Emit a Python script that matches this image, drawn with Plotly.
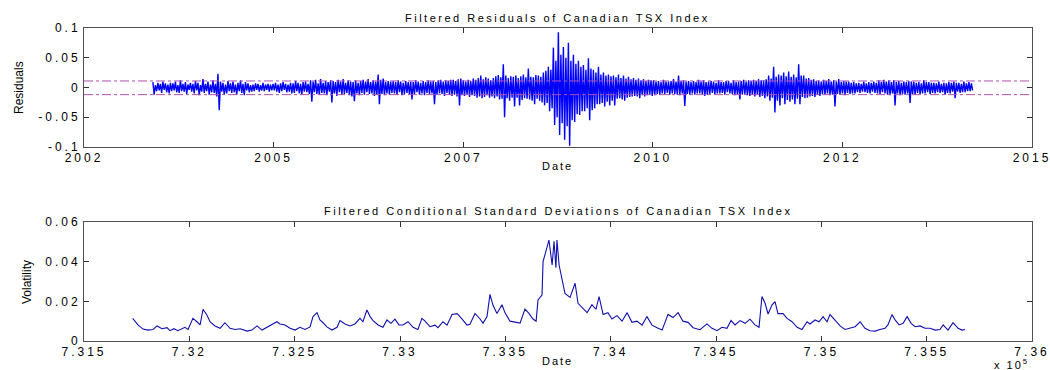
import numpy as np
import plotly.graph_objects as go

# ---------------- data ----------------
resid_start = 731827   # MATLAB datenum of first residual
resid_end = 735718     # MATLAB datenum of last residual
residuals = [
    0.009,-0.012,0.004,-0.006,0.008,-0.005,0.006,-0.009,0.010,-0.004,0.007,-0.008,0.005,-0.010,0.008,-0.006,
    0.007,-0.005,0.010,-0.008,0.004,-0.009,0.012,-0.006,0.006,-0.007,0.009,-0.011,0.005,-0.004,0.008,-0.007,
    0.006,-0.010,0.011,-0.005,0.008,-0.013,0.004,-0.007,0.014,-0.009,0.006,-0.006,0.010,-0.012,0.005,-0.008,
    0.012,-0.009,0.006,-0.015,0.023,-0.038,0.010,-0.007,0.008,-0.012,0.005,-0.010,0.011,-0.006,0.007,-0.009,
    0.010,-0.008,0.005,-0.012,0.008,-0.006,0.012,-0.009,0.006,-0.013,0.009,-0.005,0.007,-0.008,0.004,-0.007,
    0.005,-0.006,0.007,-0.004,0.006,-0.007,0.004,-0.005,0.008,-0.006,0.005,-0.004,0.006,-0.007,0.005,-0.005,
    0.006,-0.005,0.008,-0.007,0.005,-0.009,0.007,-0.006,0.009,-0.004,0.006,-0.008,0.005,-0.007,0.008,-0.010,
    0.007,-0.009,0.011,-0.006,0.008,-0.010,0.006,-0.012,0.009,-0.007,0.010,-0.008,0.006,-0.011,0.012,-0.024,
    0.010,-0.008,0.013,-0.011,0.007,-0.012,0.014,-0.009,0.008,-0.010,0.011,-0.013,0.009,-0.007,0.012,-0.025,
    0.011,-0.010,0.009,-0.014,0.013,-0.008,0.010,-0.012,0.014,-0.011,0.008,-0.009,0.012,-0.013,0.010,-0.015,
    0.009,-0.023,0.012,-0.010,0.008,-0.013,0.011,-0.009,0.013,-0.012,0.010,-0.008,0.014,-0.011,0.009,-0.010,
    0.012,-0.014,0.010,-0.012,0.022,-0.028,0.013,-0.011,0.015,-0.013,0.009,-0.010,0.011,-0.012,0.010,-0.009,
    0.011,-0.010,0.009,-0.012,0.012,-0.008,0.010,-0.013,0.008,-0.011,0.011,-0.009,0.009,-0.012,0.010,-0.020,
    0.009,-0.011,0.012,-0.008,0.010,-0.012,0.008,-0.010,0.011,-0.013,0.009,-0.009,0.012,-0.011,0.010,-0.010,
    0.011,-0.028,0.009,-0.012,0.012,-0.010,0.013,-0.011,0.010,-0.014,0.012,-0.009,0.011,-0.012,0.013,-0.014,
    0.013,-0.012,0.011,-0.015,0.014,-0.030,0.015,-0.013,0.012,-0.014,0.010,-0.012,0.013,-0.016,0.011,-0.013,
    0.015,-0.014,0.013,-0.017,0.016,-0.015,0.020,-0.018,0.014,-0.016,0.017,-0.013,0.015,-0.017,0.012,-0.015,
    0.016,-0.018,0.019,-0.015,0.021,-0.020,0.017,-0.019,0.039,-0.050,0.020,-0.018,0.016,-0.022,0.019,-0.017,
    0.018,-0.032,0.020,-0.017,0.016,-0.030,0.019,-0.021,0.022,-0.018,0.017,-0.019,0.032,-0.020,0.018,-0.022,
    0.017,-0.028,0.021,-0.019,0.020,-0.022,0.018,-0.025,0.025,-0.030,0.028,-0.026,0.035,-0.040,0.030,-0.035,
    0.067,-0.063,0.045,-0.050,0.093,-0.080,0.055,-0.060,0.068,-0.088,0.050,-0.065,0.075,-0.098,0.045,-0.055,
    0.055,-0.058,0.040,-0.045,0.045,-0.046,0.035,-0.040,0.038,-0.040,0.030,-0.035,0.049,-0.055,0.032,-0.038,
    0.030,-0.035,0.025,-0.028,0.035,-0.028,0.022,-0.026,0.025,-0.032,0.020,-0.024,0.022,-0.030,0.019,-0.022,
    0.020,-0.030,0.017,-0.019,0.022,-0.018,0.016,-0.020,0.020,-0.022,0.015,-0.017,0.018,-0.016,0.014,-0.015,
    0.016,-0.014,0.013,-0.015,0.015,-0.018,0.012,-0.013,0.014,-0.015,0.011,-0.013,0.013,-0.012,0.012,-0.014,
    0.012,-0.013,0.010,-0.011,0.011,-0.012,0.009,-0.010,0.013,-0.011,0.010,-0.009,0.010,-0.012,0.011,-0.010,
    0.014,-0.011,0.010,-0.012,0.020,-0.013,0.011,-0.010,0.012,-0.031,0.010,-0.011,0.011,-0.012,0.009,-0.010,
    0.011,-0.012,0.009,-0.010,0.013,-0.010,0.010,-0.011,0.012,-0.014,0.009,-0.012,0.010,-0.011,0.011,-0.009,
    0.010,-0.011,0.008,-0.010,0.012,-0.010,0.009,-0.009,0.009,-0.012,0.011,-0.008,0.011,-0.010,0.008,-0.011,
    0.012,-0.013,0.009,-0.011,0.010,-0.020,0.011,-0.012,0.013,-0.011,0.010,-0.013,0.012,-0.014,0.011,-0.012,
    0.013,-0.015,0.011,-0.012,0.014,-0.016,0.012,-0.014,0.012,-0.018,0.014,-0.015,0.020,-0.022,0.015,-0.017,
    0.035,-0.042,0.018,-0.022,0.022,-0.030,0.020,-0.018,0.025,-0.028,0.019,-0.021,0.027,-0.024,0.018,-0.020,
    0.022,-0.028,0.017,-0.019,0.039,-0.028,0.020,-0.016,0.020,-0.018,0.015,-0.017,0.016,-0.015,0.013,-0.014,
    0.014,-0.016,0.011,-0.012,0.012,-0.014,0.010,-0.011,0.013,-0.012,0.011,-0.010,0.014,-0.013,0.010,-0.012,
    0.012,-0.032,0.010,-0.011,0.014,-0.012,0.009,-0.010,0.011,-0.013,0.010,-0.009,0.010,-0.011,0.008,-0.010,
    0.009,-0.010,0.007,-0.008,0.008,-0.009,0.006,-0.007,0.010,-0.008,0.007,-0.009,0.009,-0.010,0.008,-0.007,
    0.010,-0.009,0.008,-0.010,0.012,-0.011,0.009,-0.008,0.013,-0.010,0.010,-0.012,0.012,-0.013,0.009,-0.010,
    0.012,-0.030,0.009,-0.010,0.011,-0.013,0.008,-0.011,0.010,-0.012,0.009,-0.010,0.011,-0.026,0.010,-0.011,
    0.010,-0.012,0.008,-0.009,0.009,-0.011,0.007,-0.010,0.012,-0.010,0.009,-0.008,0.009,-0.011,0.008,-0.009,
    0.008,-0.010,0.007,-0.008,0.010,-0.009,0.006,-0.008,0.008,-0.012,0.007,-0.009,0.009,-0.010,0.008,-0.007,
    0.010,-0.018,0.008,-0.007,0.008,-0.009,0.006,-0.008,0.010,-0.008,0.007,-0.006,0.009,-0.006,0.007,-0.005,
]
band_upper = 0.011
band_lower = -0.012

vol_dates = [
    731731,731756,731780,731804,731828,731847,731870,731894,731908,731927,
    731946,731979,731994,732017,732036,732051,732065,732084,732098,732122,
    732146,732169,732193,732217,732241,732274,732297,732321,732345,732369,
    732392,732416,732430,732454,732478,732502,732525,732549,732573,732587,
    732606,732620,732635,732653,732677,732701,732715,732739,732763,732786,
    732810,732824,732843,732858,732872,732896,732919,732938,732957,732976,
    732995,733014,733038,733062,733085,733104,733119,733142,733166,733180,
    733204,733223,733247,733271,733294,733318,733332,733356,733380,733394,
    733413,733427,733441,733460,733484,733498,733522,733546,733570,733593,
    733612,733631,733646,733655,733674,733679,733698,733707,733722,733731,
    733740,733745,733755,733769,733783,733807,733831,733845,733864,733888,
    733911,733930,733945,733964,733987,734006,734030,734054,734078,734101,
    734125,734149,734172,734196,734220,734244,734272,734296,734320,734343,
    734367,734391,734424,734457,734481,734505,734528,734552,734571,734590,
    734614,734638,734661,734685,734704,734718,734733,734747,734766,734780,
    734794,734818,734837,734861,734885,734908,734932,734946,734970,734989,
    735008,735027,735041,735065,735089,735112,735136,735160,735184,735207,
    735231,735255,735278,735302,735316,735335,735350,735369,735388,735407,
    735426,735445,735468,735492,735516,735540,735563,735578,735601,735625,
    735649,735668,735682,
]
volatility = [
    0.0114,0.0081,0.0060,0.0055,0.0058,0.0076,0.0062,0.0067,0.0052,0.0062,
    0.0052,0.0069,0.0058,0.0114,0.0097,0.0081,0.0160,0.0130,0.0097,0.0076,
    0.0064,0.0092,0.0064,0.0058,0.0062,0.0050,0.0055,0.0076,0.0055,0.0069,
    0.0079,0.0097,0.0086,0.0081,0.0064,0.0055,0.0069,0.0058,0.0071,0.0123,
    0.0143,0.0106,0.0092,0.0071,0.0055,0.0069,0.0103,0.0086,0.0076,0.0086,
    0.0114,0.0097,0.0156,0.0123,0.0103,0.0081,0.0069,0.0106,0.0089,0.0110,
    0.0081,0.0081,0.0097,0.0069,0.0058,0.0114,0.0100,0.0072,0.0080,0.0067,
    0.0097,0.0080,0.0134,0.0138,0.0111,0.0080,0.0084,0.0139,0.0111,0.0090,
    0.0123,0.0235,0.0181,0.0139,0.0183,0.0143,0.0100,0.0094,0.0090,0.0161,
    0.0139,0.0111,0.0100,0.0207,0.0232,0.0400,0.0467,0.0509,0.0383,0.0503,
    0.0369,0.0509,0.0383,0.0316,0.0240,0.0220,0.0291,0.0190,0.0167,0.0143,
    0.0183,0.0160,0.0224,0.0134,0.0143,0.0111,0.0128,0.0100,0.0143,0.0094,
    0.0100,0.0080,0.0123,0.0080,0.0067,0.0055,0.0134,0.0118,0.0143,0.0100,
    0.0094,0.0067,0.0057,0.0086,0.0064,0.0052,0.0069,0.0064,0.0103,0.0081,
    0.0103,0.0089,0.0110,0.0081,0.0069,0.0224,0.0190,0.0136,0.0182,0.0199,
    0.0138,0.0138,0.0114,0.0097,0.0069,0.0058,0.0097,0.0086,0.0106,0.0097,
    0.0123,0.0097,0.0133,0.0103,0.0076,0.0058,0.0064,0.0072,0.0097,0.0064,
    0.0052,0.0050,0.0058,0.0064,0.0081,0.0133,0.0106,0.0081,0.0089,0.0123,
    0.0089,0.0072,0.0076,0.0064,0.0064,0.0055,0.0058,0.0081,0.0055,0.0092,
    0.0064,0.0055,0.0058,
]

x_range = [731500, 736000]
top_tickvals = [731500, 732400, 733300, 734200, 735100, 736000]
top_ticktext = ["2002", "2005", "2007", "2010", "2012", "2015"]
bot_tickvals = [731500, 732000, 732500, 733000, 733500, 734000, 734500, 735000, 735500, 736000]
bot_ticktext = ["7.315", "7.32", "7.325", "7.33", "7.335", "7.34", "7.345", "7.35", "7.355", "7.36"]
top_yticks = [-0.1, -0.05, 0, 0.05, 0.1]
top_yticktext = ["-0.1", "-0.05", "0", "0.05", "0.1"]
bot_yticks = [0, 0.02, 0.04, 0.06]
bot_yticktext = ["0", "0.02", "0.04", "0.06"]

title_top = "Filtered Residuals of Canadian TSX Index"
title_bot = "Filtered Conditional Standard Deviations of Canadian TSX Index"


def spaced(s, ls):
    """Wrap text in a span with letter spacing (MATLAB-like wide rendering)."""
    return '<span style="letter-spacing:%spx">%s</span>' % (ls, s)


# ---------------- figure ----------------
resid_dates = np.linspace(resid_start, resid_end, len(residuals))

fig = go.Figure()
fig.add_trace(go.Scatter(x=resid_dates, y=residuals, mode="lines",
                         line=dict(color="#0000ff", width=1.4, simplify=False),
                         xaxis="x", yaxis="y", showlegend=False))
fig.add_trace(go.Scatter(x=x_range, y=[band_upper, band_upper], mode="lines",
                         line=dict(color="#b050b0", width=1, dash="dashdot"),
                         xaxis="x", yaxis="y", showlegend=False))
fig.add_trace(go.Scatter(x=x_range, y=[band_lower, band_lower], mode="lines",
                         line=dict(color="#b050b0", width=1, dash="dashdot"),
                         xaxis="x", yaxis="y", showlegend=False))
fig.add_trace(go.Scatter(x=vol_dates, y=volatility, mode="lines",
                         line=dict(color="#1010b0", width=1.1),
                         xaxis="x2", yaxis="y2", showlegend=False))

TICK_LS = 3.0
tickfont = dict(family="Liberation Sans, Arial, sans-serif", size=12, color="#000000")
axis_common = dict(showgrid=False, zeroline=False, showline=True, mirror="allticks",
                   linecolor="#505050", linewidth=1, ticks="inside", ticklen=5,
                   tickcolor="#303030", tickfont=tickfont, ticklabeloverflow="allow",
                   automargin=False)

fig.update_layout(
    width=1050, height=370,
    margin=dict(l=0, r=0, t=0, b=0, autoexpand=False),
    paper_bgcolor="white", plot_bgcolor="white",
    xaxis=dict(domain=[0.08, 0.9829], range=x_range, tickmode="array",
               tickvals=top_tickvals, ticktext=[spaced(t, TICK_LS) for t in top_ticktext],
               anchor="y", **axis_common),
    yaxis=dict(domain=[0.6027, 0.9243], range=[-0.1, 0.1], tickmode="array",
               tickvals=top_yticks, ticktext=[spaced(t, TICK_LS) for t in top_yticktext],
               anchor="x", **axis_common),
    xaxis2=dict(domain=[0.08, 0.9829], range=x_range, tickmode="array",
                tickvals=bot_tickvals, ticktext=[spaced(t, TICK_LS) for t in bot_ticktext],
                anchor="y2", **axis_common),
    yaxis2=dict(domain=[0.0784, 0.4], range=[0, 0.06], tickmode="array",
                tickvals=bot_yticks, ticktext=[spaced(t, TICK_LS) for t in bot_yticktext],
                anchor="x2", **axis_common),
)

ann_font = dict(family="Liberation Sans, Arial, sans-serif", size=11, color="#000000")
label_font = dict(family="Liberation Sans Narrow, Liberation Sans, Arial, sans-serif",
                  size=12, color="#000000")
annotations = [
    dict(text=spaced(title_top, 2.5), x=0.5314, y=1 - 18 / 370, xref="paper", yref="paper",
         showarrow=False, font=ann_font, xanchor="center", yanchor="middle"),
    dict(text=spaced(title_bot, 2.5), x=0.5314, y=1 - 211 / 370, xref="paper", yref="paper",
         showarrow=False, font=ann_font, xanchor="center", yanchor="middle"),
    dict(text=spaced("Date", 2), x=0.5314, y=1 - 166 / 370, xref="paper", yref="paper",
         showarrow=False, font=ann_font, xanchor="center", yanchor="middle"),
    dict(text=spaced("Date", 2), x=0.5314, y=1 - 361 / 370, xref="paper", yref="paper",
         showarrow=False, font=ann_font, xanchor="center", yanchor="middle"),
    dict(text="Residuals", x=19 / 1050, y=1 - 88 / 370, xref="paper", yref="paper",
         showarrow=False, font=label_font, textangle=-90, xanchor="center", yanchor="middle"),
    dict(text="Volatility", x=27 / 1050, y=1 - 282 / 370, xref="paper", yref="paper",
         showarrow=False, font=label_font, textangle=-90, xanchor="center", yanchor="middle"),
    dict(text=spaced("x 10<sup>5</sup>", 2), x=1031 / 1050, y=1 - 364 / 370, xref="paper",
         yref="paper", showarrow=False, font=ann_font, xanchor="right", yanchor="middle"),
]
fig.update_layout(annotations=annotations)

# remove the default page margin so the 1050x370 figure fills the window exactly
fig.write_html("out.html", config={"displayModeBar": False},
               post_script="document.body.style.margin='0';document.body.style.overflow='hidden';")
